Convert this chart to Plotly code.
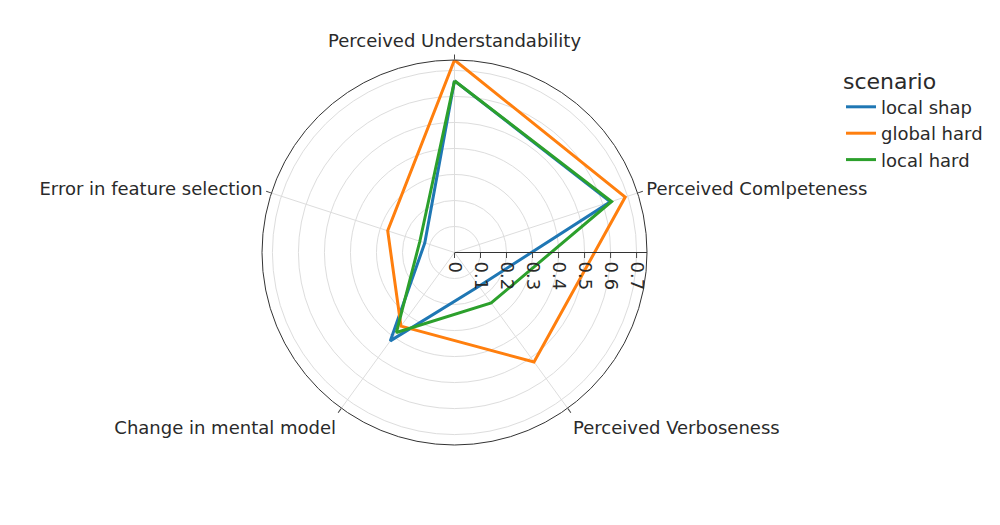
import plotly.graph_objects as go

categories = ["Perceived Understandability", "Perceived Comlpeteness", "Perceived Verboseness",
              "Change in mental model", "Error in feature selection"]
scenarios = ["local shap", "global hard", "local hard"]
local_shap = [0.66, 0.63, 0.16, 0.42, 0.12]
global_hard = [0.74, 0.69, 0.52, 0.35, 0.27]
local_hard = [0.66, 0.635, 0.24, 0.38, 0.14]
colors = ["#1f77b4", "#ff7f0e", "#2ca02c"]

fig = go.Figure()
for name, vals, col in zip(scenarios, [local_shap, global_hard, local_hard], colors):
    fig.add_trace(go.Scatterpolar(
        r=vals + vals[:1], theta=categories + categories[:1], mode="lines", name=name,
        line=dict(color=col, width=3),
    ))

fig.update_layout(
    template="simple_white",
    width=1000, height=525,
    font=dict(family="DejaVu Sans, Verdana, sans-serif", size=18, color="#2a2a2a"),
    margin=dict(t=52, b=88, l=60, r=108),
    legend=dict(title=dict(text="scenario", font=dict(size=22)), tracegroupgap=0,
                xref="container", x=0.833, xanchor="left", y=1, yanchor="top",
                yref="paper"),
    polar=dict(
        bgcolor="white",
        angularaxis=dict(direction="clockwise", rotation=90, showgrid=True,
                         gridcolor="#dddddd", linecolor="#333333", ticks="outside"),
        radialaxis=dict(range=[0, 0.74], showgrid=True, gridcolor="#dddddd",
                        linecolor="#333333", ticks="outside", tickangle=90,
                        dtick=0.1, angle=0),
    ),
)
fig.write_html("out.html")
